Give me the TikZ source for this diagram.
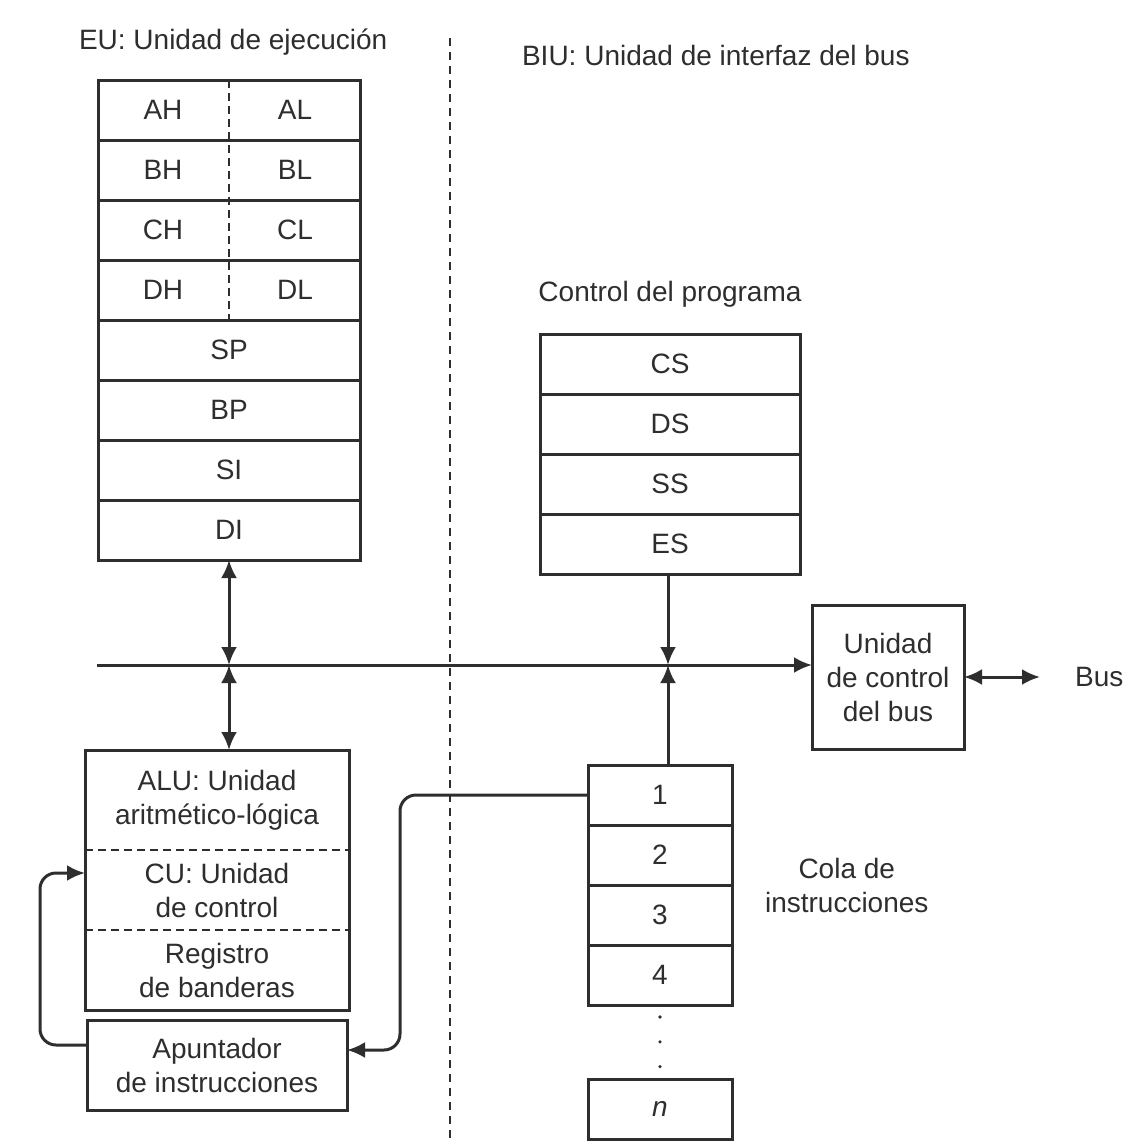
\documentclass[tikz,border=0pt]{standalone}
\usepackage{fontspec}
\setmainfont{Liberation Sans}
\usetikzlibrary{positioning, arrows.meta}
\definecolor{ink}{HTML}{2E2E2E}

\begin{document}
\begin{tikzpicture}[x=0.5pt, y=-0.5pt, node distance=0pt,
  >={Latex[length=9pt, width=8pt]},
  every node/.style={font=\fontsize{14}{17}\selectfont, text=ink},
  reg/.style={draw=ink, line width=1.5pt, minimum height=30pt, inner sep=0pt, outer sep=0pt},
  wide/.style={reg, minimum width=131pt},
  seg/.style={reg, minimum width=130pt},
  cell/.style={reg, minimum width=72pt},
  part/.style={minimum width=132pt, align=center, inner sep=0pt, outer sep=0pt},
  wire/.style={draw=ink, line width=1.5pt},
  split/.style={draw=ink, line width=0.9pt, dash pattern=on 4pt off 2.5pt},
  divider/.style={draw=ink, line width=0.9pt, dash pattern=on 4pt off 3pt}]

  \path[use as bounding box, fill=white] (0,0) rectangle (1133,1147);

  % titles
  \node[anchor=west] (eu)  at (72,42)  {EU: Unidad de ejecución};
  \node[anchor=west] (biu) at (515,55) {BIU: Unidad de interfaz del bus};
  \draw[divider] (450,38) -- (450,1138);

  % execution unit registers
  \node[wide]               (ra) at (229,110) {};
  \node[wide, below=of ra]  (rb) {};
  \node[wide, below=of rb]  (rc) {};
  \node[wide, below=of rc]  (rd) {};
  \node[wide, below=of rd]  (sp) {SP};
  \node[wide, below=of sp]  (bp) {BP};
  \node[wide, below=of bp]  (si) {SI};
  \node[wide, below=of si]  (di) {DI};
  \draw[split] (ra.north) -- (rd.south);
  \node at ([xshift=-33pt]ra.center) {AH};
  \node at ([xshift=33pt]ra.center)  {AL};
  \node at ([xshift=-33pt]rb.center) {BH};
  \node at ([xshift=33pt]rb.center)  {BL};
  \node at ([xshift=-33pt]rc.center) {CH};
  \node at ([xshift=33pt]rc.center)  {CL};
  \node at ([xshift=-33pt]rd.center) {DH};
  \node at ([xshift=33pt]rd.center)  {DL};

  % ALU, CU, flags
  \node[part, minimum height=50pt]            (alu)   at (217,800) {ALU: Unidad\\aritmético-lógica};
  \node[part, minimum height=40pt, below=of alu] (cu)    {CU: Unidad\\de control};
  \node[part, minimum height=40pt, below=of cu]  (flags) {Registro\\de banderas};
  \draw[wire] (alu.north west) rectangle (flags.south east);
  \draw[split] (alu.south west) -- (alu.south east);
  \draw[split] (cu.south west) -- (cu.south east);
  \node[reg, minimum width=130pt, minimum height=45pt, align=center, below=5pt of flags] (ip) {Apuntador\\de instrucciones};

  % program control
  \node[seg]              (cs) at (670,364) {CS};
  \node[seg, below=of cs] (ds) {DS};
  \node[seg, below=of ds] (ss) {SS};
  \node[seg, below=of ss] (es) {ES};
  \node[above=10pt of cs] (pc) {Control del programa};

  % instruction queue
  \node[cell]              (q1) at (660,795) {1};
  \node[cell, below=of q1] (q2) {2};
  \node[cell, below=of q2] (q3) {3};
  \node[cell, below=of q3] (q4) {4};
  \node[cell, below=37pt of q4] (qn) {\textit{n}};
  \draw[ink, line width=1.8pt, line cap=round, dash pattern=on 0pt off 12.4pt,
        shorten <=6pt, shorten >=6pt] (q4) -- (qn);
  \node[align=center, right=13pt of q3.north east] (queue) {Cola de\\instrucciones};

  % bus control
  \node[reg, minimum width=76pt, minimum height=72pt, align=center] (buc) at (888,677) {Unidad\\de control\\del bus};
  \node[right=52pt of buc] (bus) {Bus};
  \draw[wire, <->, shorten >=14pt] (buc) -- (bus);

  % internal bus
  \coordinate (busw) at (97,665);
  \coordinate (jl) at (229,665);
  \coordinate (jr) at (668,665);
  \draw[wire, ->] (busw) -- (busw -| buc.west);
  \draw[wire, <->] (jl |- di.south) -- (jl);
  \draw[wire, <->] (jl) -- (jl |- alu.north);
  \draw[wire, ->] (jr |- es.south) -- (jr);
  \draw[wire, ->] (jr |- q1.north) -- (jr);

  % loops
  \coordinate (lb) at (40,1045);
  \coordinate (lt) at (40,873);
  \draw[wire, ->, rounded corners=8pt] (lb -| ip.west) -- (lb) -- (lt) -- (lt -| cu.west);
  \coordinate (qt) at (400,795);
  \coordinate (qb) at (400,1050);
  \draw[wire, ->, rounded corners=8pt] (q1.west) -- (qt) -- (qb) -- (qb -| ip.east);
\end{tikzpicture}
\end{document}
